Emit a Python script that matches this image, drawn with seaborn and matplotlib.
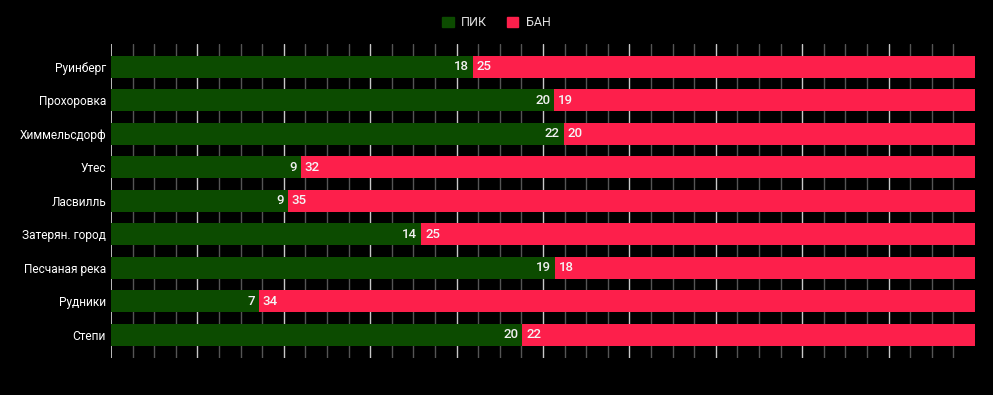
import matplotlib
matplotlib.use("Agg")
import matplotlib.pyplot as plt
import matplotlib.patches as mpatches
import seaborn as sns
import pandas as pd
import numpy as np

maps = ["Руинберг", "Прохоровка", "Химмельсдорф", "Утес", "Ласвилль",
        "Затерян. город", "Песчаная река", "Рудники", "Степи"]
picks = [18, 20, 22, 9, 9, 14, 19, 7, 20]
bans = [25, 19, 20, 32, 35, 25, 18, 34, 22]

GREEN = "#0c4b00"
RED = "#fd1f4b"

sns.set_theme(style="dark")
plt.rcParams["font.family"] = ["Roboto", "DejaVu Sans"]

df = pd.DataFrame({"map": maps, "pick": picks, "ban": bans})
df["total_pct"] = 100.0
df["pick_pct"] = df["pick"] / (df["pick"] + df["ban"]) * 100

fig = plt.figure(figsize=(9.93, 3.95), dpi=100, facecolor="black")
ax = fig.add_axes([111 / 993, 1 - 357.7 / 395, 864 / 993, (357.7 - 44) / 395])
ax.set_facecolor("black")

# grid lines
for i, x in enumerate(np.arange(0, 98, 2.5)):
    if i == 0:
        ax.axvline(x, color="#dddddd", lw=1.2, zorder=0)
    elif i % 4 == 0:
        ax.axvline(x, color="#c8c8c8", lw=1.0, zorder=0)
    else:
        ax.axvline(x, color="#555555", lw=1.0, zorder=0)

sns.barplot(data=df, y="map", x="total_pct", orient="h", color=RED,
            width=0.66, ax=ax, saturation=1, zorder=2, linewidth=0,
            edgecolor="none")
sns.barplot(data=df, y="map", x="pick_pct", orient="h", color=GREEN,
            width=0.66, ax=ax, saturation=1, zorder=3, linewidth=0,
            edgecolor="none")

for i, (pp, p, b) in enumerate(zip(df["pick_pct"], picks, bans)):
    ax.text(pp - 0.45, i, str(p), ha="right", va="center", color="#f0f0f0",
            fontsize=9.5, fontweight="medium", zorder=5)
    ax.text(pp + 0.45, i, str(b), ha="left", va="center", color="#f5f5f5",
            fontsize=9.5, fontweight="medium", zorder=5)

ax.set_xlim(0, 100)
ax.set_ylim(8.5 + 0.18, -0.5 - 0.18)
ax.set_xlabel("")
ax.set_ylabel("")
ax.set_xticks([])
ax.tick_params(axis="y", colors="#ffffff", labelsize=8.6, length=0, pad=3.6)
for s in ax.spines.values():
    s.set_visible(False)
ax.grid(False)

handles = [mpatches.Patch(color=GREEN, label="ПИК"),
           mpatches.Patch(color=RED, label="БАН")]
fig.legend(handles=handles, loc="center", bbox_to_anchor=(0.5, 1 - 23 / 395),
           ncol=2, frameon=False, fontsize=9, labelcolor="#e0e0e0",
           handlelength=0.9, handleheight=0.9, handletextpad=0.6,
           columnspacing=1.6)

fig.savefig("out.png", dpi=100, facecolor="black")
